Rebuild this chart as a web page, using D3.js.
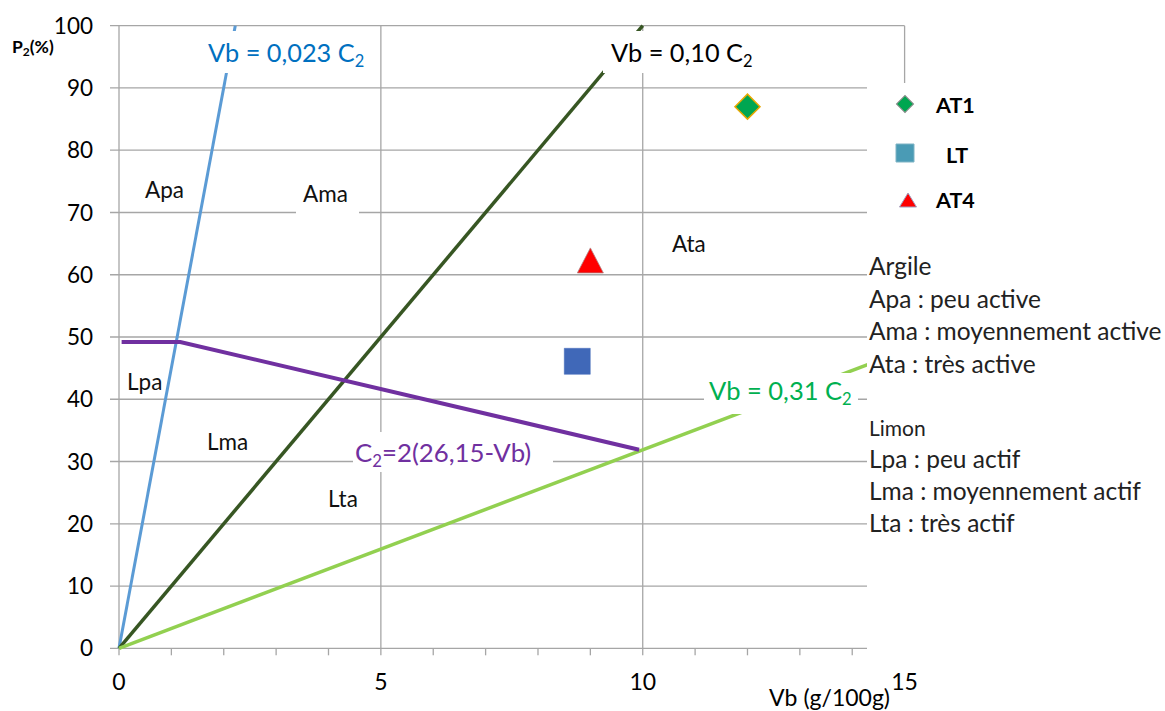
<!DOCTYPE html>
<html><head><meta charset="utf-8">
<script src="https://cdn.jsdelivr.net/npm/d3@7"></script>
<style>
body{margin:0;background:#fff}
svg{display:block}
text{font-family:Lato,"Open Sans",sans-serif}
</style>
</head><body>
<svg id="c" width="1165" height="711"></svg>
<script>
// ---- data ----
const xTickLabels = [0, 5, 10, 15];
const xMinorTicks = [0,1,2,3,4,5,6,7,8,9,10,11,12,13,14,15];
const yTickLabels = [0,10,20,30,40,50,60,70,80,90,100];
const xGrid = [0, 5, 10, 15];

// boundary lines (Vb, P2)
const blueVb = [0, 2.22],  blueP2 = [0, 100];      // Vb = 0,023 C2
const darkVb = [0, 10],    darkP2 = [0, 100];      // Vb = 0,10 C2
const lightVb = [0, 15],   lightP2 = [0, 47.8];    // Vb = 0,31 C2
const purpleVb = [0.05, 1.17, 9.93], purpleP2 = [49.2, 49.2, 31.9]; // C2=2(26,15-Vb)

// samples
const sampleNames = ["AT1", "LT", "AT4"];
const sampleVb = [12.0, 8.75, 9.0];
const sampleP2 = [87.0, 46.1, 62.3];

const zoneLabels = ["Apa", "Ama", "Ata", "Lpa", "Lma", "Lta"];
const notes = ["Argile", "Apa : peu active", "Ama : moyennement active", "Ata : très active",
               "Limon", "Lpa : peu actif", "Lma : moyennement actif", "Lta : très actif"];

// ---- drawing ----
const svg = d3.select("#c");
const x = d3.scaleLinear().domain([0, 15]).range([119, 904.6]);
const y = d3.scaleLinear().domain([0, 100]).range([648.3, 25.7]);
const gridColor = "#a6a6a6";

// horizontal gridlines (with outside ticks)
svg.append("g").selectAll("line").data(yTickLabels).join("line")
  .attr("x1", 110).attr("x2", x(15))
  .attr("y1", d => y(d)).attr("y2", d => y(d))
  .attr("stroke", gridColor).attr("stroke-width", 1.3);
// vertical gridlines
svg.append("g").selectAll("line").data(xGrid).join("line")
  .attr("x1", d => x(d)).attr("x2", d => x(d))
  .attr("y1", y(100)).attr("y2", y(0))
  .attr("stroke", gridColor).attr("stroke-width", 1.3);
// minor ticks on x axis
svg.append("g").selectAll("line").data(xMinorTicks).join("line")
  .attr("x1", d => x(d)).attr("x2", d => x(d))
  .attr("y1", y(0)).attr("y2", y(0) + 7)
  .attr("stroke", gridColor).attr("stroke-width", 1.3);

// tick labels
svg.append("g").selectAll("text").data(yTickLabels).join("text")
  .attr("x", 93).attr("y", d => y(d)).attr("dy", "0.36em")
  .attr("text-anchor", "end").attr("font-size", 22.5).attr("fill", "#000")
  .text(d => d);
svg.append("g").selectAll("text").data(xTickLabels).join("text")
  .attr("x", d => x(d)).attr("y", 690)
  .attr("text-anchor", "middle").attr("font-size", 23).attr("fill", "#000")
  .text(d => d);

// lines
const line = d3.line().x(d => x(d[0])).y(d => y(d[1]));
const series = [
  {vb: blueVb, p2: blueP2, color: "#5b9bd5", w: 3},
  {vb: darkVb, p2: darkP2, color: "#375623", w: 3.5},
  {vb: lightVb, p2: lightP2, color: "#92d050", w: 3.5},
  {vb: purpleVb, p2: purpleP2, color: "#7030a0", w: 4}
];
series.forEach(s => {
  svg.append("path").datum(s.vb.map((v, i) => [v, s.p2[i]]))
    .attr("d", line).attr("fill", "none")
    .attr("stroke", s.color).attr("stroke-width", s.w);
});

// sample markers
const diamond = d3.symbol(d3.symbolSquare, 313)();
const square = d3.symbol(d3.symbolSquare, 676)();
const tri = (w, h) => `M0,${-h/2}L${w/2},${h/2}L${-w/2},${h/2}Z`;
const markerStyles = [
  {path: diamond, rot: 45, fill: "#00a651", stroke: "#e8a800", sw: 1.5},
  {path: square, rot: 0, fill: "#4068b8", stroke: "#4068b8", sw: 0.5},
  {path: tri(26, 25), rot: 0, fill: "#ff0000", stroke: "#b08080", sw: 0.8}
];
sampleNames.forEach((n, i) => {
  const m = markerStyles[i];
  svg.append("path").attr("d", m.path)
    .attr("transform", `translate(${x(sampleVb[i])},${y(sampleP2[i])}) rotate(${m.rot})`)
    .attr("fill", m.fill).attr("stroke", m.stroke).attr("stroke-width", m.sw);
});

// annotation helper
function label(tx, ty, parts, color, size, box) {
  if (box) svg.append("rect").attr("x", box[0]).attr("y", box[1])
    .attr("width", box[2] - box[0]).attr("height", box[3] - box[1]).attr("fill", "#fff");
  const t = svg.append("text").attr("x", tx).attr("y", ty)
    .attr("font-size", size).attr("fill", color);
  parts.forEach(p => {
    if (p.sub) t.append("tspan").attr("font-size", size * 0.65).attr("dy", size * 0.18).text(p.t);
    else t.append("tspan").attr("dy", p.back ? -size * 0.18 : 0).text(p.t);
  });
}
label(208, 62, [{t: "Vb = 0,023 C"}, {t: "2", sub: true}], "#0070c0", 25.3, [200, 31, 372, 73]);
label(611, 62, [{t: "Vb = 0,10 C"}, {t: "2", sub: true}], "#000", 25.3, [603, 31, 760, 73]);
label(709, 400, [{t: "Vb = 0,31 C"}, {t: "2", sub: true}], "#00b050", 25.5, [704, 373, 858, 414]);
label(355, 462, [{t: "C"}, {t: "2", sub: true}, {t: "=2(26,15-Vb)", back: true}], "#7030a0", 25.8, [353, 432, 553, 472]);

const zonePos = [[145,198],[303,202],[672,252],[127,390],[207,450],[328,507]];
svg.append("rect").attr("x", 296).attr("y", 180).attr("width", 63).attr("height", 38).attr("fill", "#fff");
zoneLabels.forEach((z, i) => {
  svg.append("text").attr("x", zonePos[i][0]).attr("y", zonePos[i][1])
    .attr("font-size", 22.5).attr("fill", "#111").text(z);
});

// right-hand white text box
svg.append("rect").attr("x", 867).attr("y", 83).attr("width", 298).attr("height", 577).attr("fill", "#fff");

// legend
const legPos = [[905,104],[905,153],[908,200]];
const legTextPos = [[936,113],[946,163],[936,208]];
const legStyles = [
  {path: d3.symbol(d3.symbolSquare, 145)(), rot: 45, fill: "#00a650", stroke: "#8a8a8a"},
  {path: d3.symbol(d3.symbolSquare, 324)(), rot: 0, fill: "#4a9bb5", stroke: "#7fb3c4"},
  {path: tri(17, 14), rot: 0, fill: "#ff0000", stroke: "#a0a0c0"}
];
sampleNames.forEach((n, i) => {
  const m = legStyles[i];
  svg.append("path").attr("d", m.path)
    .attr("transform", `translate(${legPos[i][0]},${legPos[i][1]}) rotate(${m.rot})`)
    .attr("fill", m.fill).attr("stroke", m.stroke).attr("stroke-width", 1);
  svg.append("text").attr("x", legTextPos[i][0]).attr("y", legTextPos[i][1])
    .attr("font-size", 21.5).attr("font-weight", "bold").attr("fill", "#000").text(n);
});

// notes
const noteY = [275, 308, 340, 373, 436, 468, 500, 532];
notes.forEach((n, i) => {
  svg.append("text").attr("x", 869).attr("y", noteY[i])
    .attr("font-size", n === "Limon" ? 21 : 24.5).attr("fill", "#222").text(n);
});

// axis titles
const yt = svg.append("text").attr("x", 12).attr("y", 53).attr("font-size", 17.5)
  .attr("font-weight", "bold").attr("fill", "#000");
yt.append("tspan").text("P");
yt.append("tspan").attr("font-size", 12).attr("dy", 3).text("2");
yt.append("tspan").attr("dy", -3).text("(%)");
svg.append("text").attr("x", 890).attr("y", 706).attr("text-anchor", "end")
  .attr("font-size", 23).attr("fill", "#000").text("Vb (g/100g)");
</script>
</body></html>
